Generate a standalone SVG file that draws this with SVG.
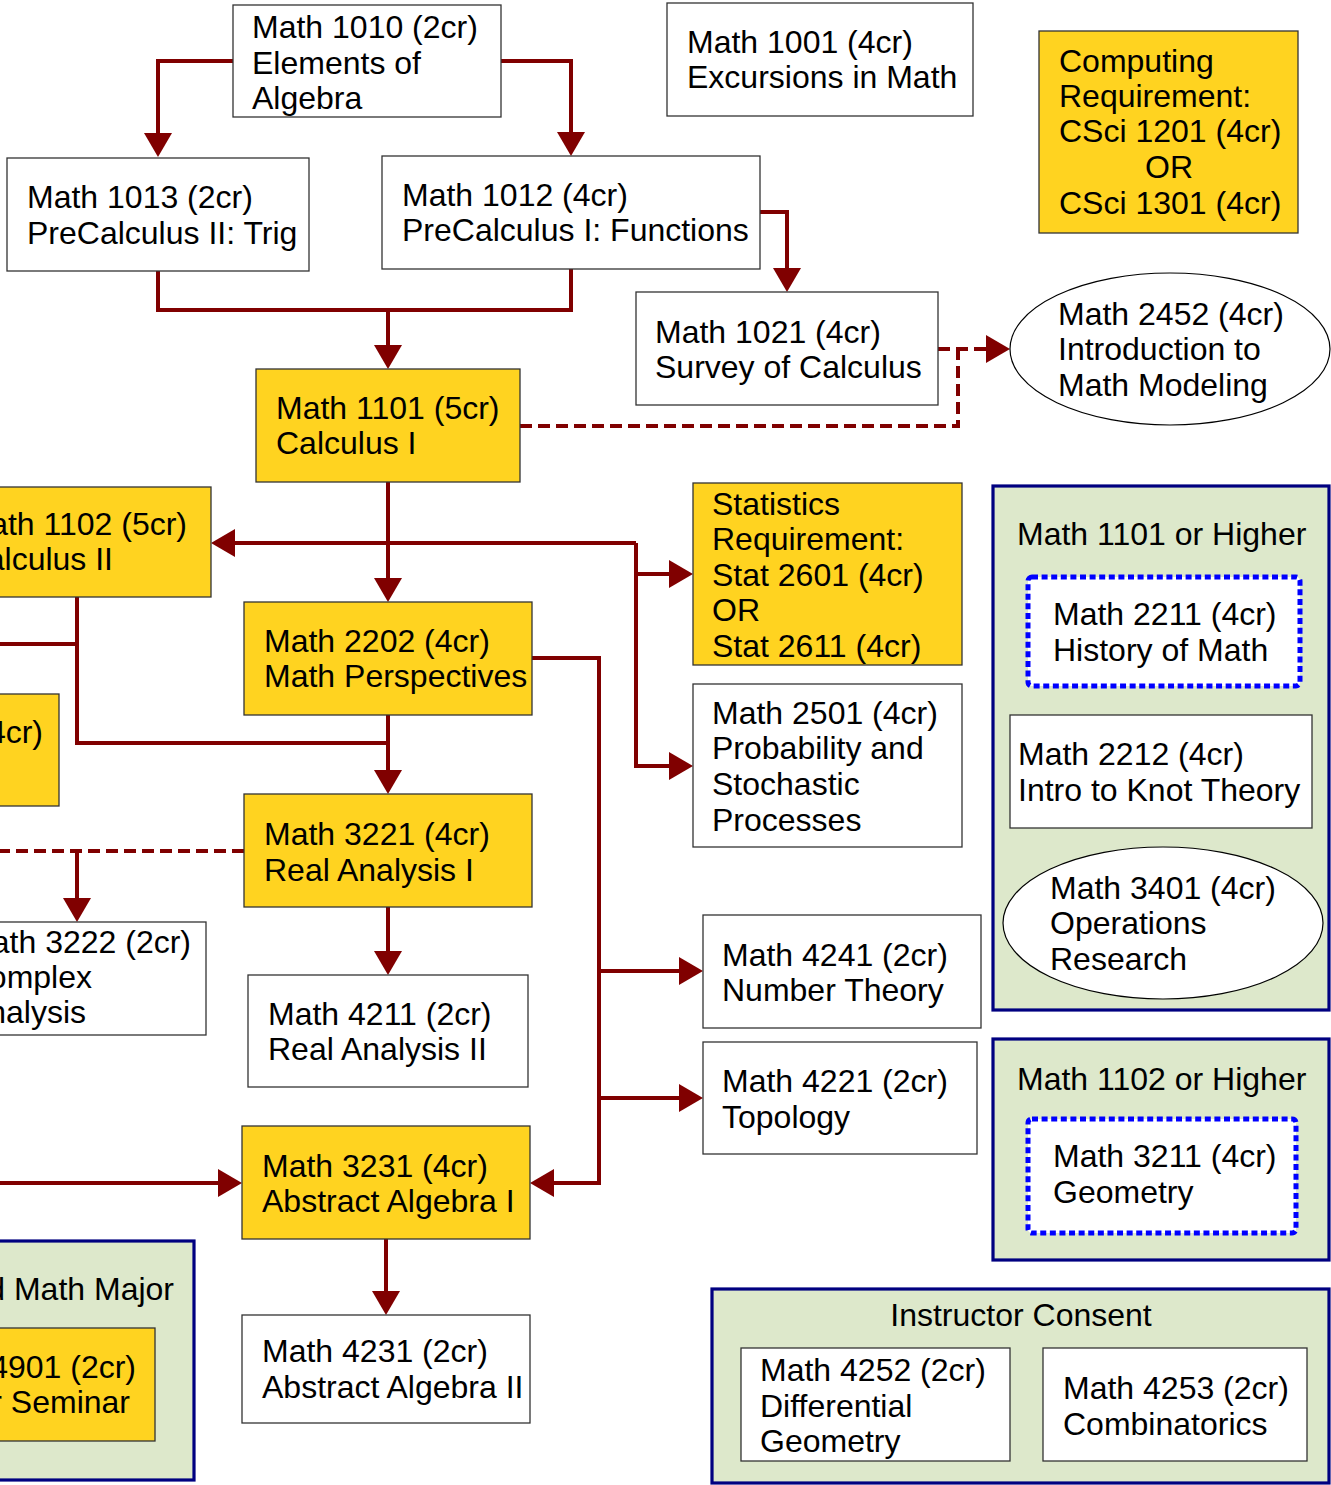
<svg xmlns="http://www.w3.org/2000/svg" width="1331" height="1485" viewBox="0 0 1331 1485">
<defs>
<style>
text{font-family:"Liberation Sans",Arial,sans-serif;font-size:32px;fill:#000}
.box{fill:#fff;stroke:#333;stroke-width:1.3}
.yel{fill:#ffd320;stroke:#333;stroke-width:1.3}
.grp{fill:#dde8cb;stroke:#000080;stroke-width:3.2}
.dot{fill:#fff;stroke:#0000ff;stroke-width:5;stroke-dasharray:6 3.6}
.ell{fill:#fff;stroke:#000;stroke-width:1.2}
.c{fill:none;stroke:#800000;stroke-width:4}
.d{fill:none;stroke:#800000;stroke-width:4;stroke-dasharray:12 6}
.mid{text-anchor:middle}
.end{text-anchor:end}
</style>
<marker id="ah" markerUnits="userSpaceOnUse" markerWidth="26" markerHeight="28" viewBox="0 0 26 28" refX="2" refY="14" orient="auto">
<path d="M0,0 L24,14 L0,28 z" fill="#800000"/>
</marker>
</defs>
<rect width="1331" height="1485" fill="#fff"/>

<g id="groups">
<g id="grp-1101"><rect class="grp" x="993" y="486" width="336" height="524"/><text x="1017" y="545">Math 1101 or Higher</text></g>
<g id="grp-1102"><rect class="grp" x="993" y="1039" width="336" height="221"/><text x="1017" y="1090">Math 1102 or Higher</text></g>
<g id="grp-consent"><rect class="grp" x="712" y="1289" width="617" height="194"/><text class="mid" x="1021" y="1326">Instructor Consent</text></g>
<g id="grp-major"><rect class="grp" x="-10" y="1241" width="204" height="239"/><text class="end" x="174" y="1300">d Math Major</text></g>
</g>

<g id="connectors">
<path class="c" d="M233,61 H158 V135" marker-end="url(#ah)"/>
<path class="c" d="M501,61 H571 V134" marker-end="url(#ah)"/>
<path class="c" d="M158,271 V310 H571 V269"/>
<path class="c" d="M388,310 V347" marker-end="url(#ah)"/>
<path class="c" d="M760,212 H787 V270" marker-end="url(#ah)"/>
<path class="d" d="M520,426 H958 V349"/>
<path class="d" d="M938,349 H988"/>
<path class="c" d="M982,349 H988" marker-end="url(#ah)"/>
<path class="c" d="M388,482 V580" marker-end="url(#ah)"/>
<path class="c" d="M636,543 H233" marker-end="url(#ah)"/>
<path class="c" d="M636,543 V766 H671" marker-end="url(#ah)"/>
<path class="c" d="M636,574 H671" marker-end="url(#ah)"/>
<path class="c" d="M532,658 H599 V1183 H552" marker-end="url(#ah)"/>
<path class="c" d="M599,971 H681" marker-end="url(#ah)"/>
<path class="c" d="M599,1098 H681" marker-end="url(#ah)"/>
<path class="c" d="M-10,644 H77"/>
<path class="c" d="M77,597 V743 H388"/>
<path class="c" d="M388,715 V772" marker-end="url(#ah)"/>
<path class="d" d="M244,851 H-10"/>
<path class="c" d="M77,851 V900" marker-end="url(#ah)"/>
<path class="c" d="M388,907 V953" marker-end="url(#ah)"/>
<path class="c" d="M-10,1183 H220" marker-end="url(#ah)"/>
<path class="c" d="M386,1239 V1293" marker-end="url(#ah)"/>
</g>

<g id="n1010"><rect class="box" x="233" y="5" width="268" height="112"/><text x="252" y="38">Math 1010 (2cr)</text><text x="252" y="73.5">Elements of</text><text x="252" y="109">Algebra</text></g>
<g id="n1001"><rect class="box" x="667" y="3" width="306" height="113"/><text x="687" y="53">Math 1001 (4cr)</text><text x="687" y="88">Excursions in Math</text></g>
<g id="ncomp"><rect class="yel" x="1039" y="31" width="259" height="202"/><text x="1059" y="72">Computing</text><text x="1059" y="107">Requirement:</text><text x="1059" y="142">CSci 1201 (4cr)</text><text class="mid" x="1169" y="178">OR</text><text x="1059" y="214">CSci 1301 (4cr)</text></g>
<g id="n1013"><rect class="box" x="7" y="158" width="302" height="113"/><text x="27" y="208">Math 1013 (2cr)</text><text x="27" y="244">PreCalculus II: Trig</text></g>
<g id="n1012"><rect class="box" x="382" y="156" width="378" height="113"/><text x="402" y="206">Math 1012 (4cr)</text><text x="402" y="241">PreCalculus I: Functions</text></g>
<g id="n1021"><rect class="box" x="636" y="292" width="302" height="113"/><text x="655" y="343">Math 1021 (4cr)</text><text x="655" y="378">Survey of Calculus</text></g>
<g id="n2452"><ellipse class="ell" cx="1170" cy="349" rx="160" ry="76"/><text x="1058" y="325">Math 2452 (4cr)</text><text x="1058" y="360">Introduction to</text><text x="1058" y="396">Math Modeling</text></g>
<g id="n1101"><rect class="yel" x="256" y="369" width="264" height="113"/><text x="276" y="419">Math 1101 (5cr)</text><text x="276" y="454">Calculus I</text></g>
<g id="n1102"><rect class="yel" x="-10" y="487" width="221" height="110"/><text class="end" x="187" y="535">ath 1102 (5cr)</text><text class="end" x="113" y="570">alculus II</text></g>
<g id="nstat"><rect class="yel" x="693" y="483" width="269" height="182"/><text x="712" y="515">Statistics</text><text x="712" y="550">Requirement:</text><text x="712" y="586">Stat 2601 (4cr)</text><text x="712" y="621">OR</text><text x="712" y="657">Stat 2611 (4cr)</text></g>
<g id="n2202"><rect class="yel" x="244" y="602" width="288" height="113"/><text x="264" y="652">Math 2202 (4cr)</text><text x="264" y="687">Math Perspectives</text></g>
<g id="n4cr"><rect class="yel" x="-10" y="694" width="69" height="112"/><text class="end" x="43" y="743">(4cr)</text></g>
<g id="n2501"><rect class="box" x="693" y="684" width="269" height="163"/><text x="712" y="724">Math 2501 (4cr)</text><text x="712" y="759">Probability and</text><text x="712" y="795">Stochastic</text><text x="712" y="831">Processes</text></g>
<g id="n2211"><rect class="dot" x="1028" y="577" width="272" height="109" rx="4"/><text x="1053" y="625">Math 2211 (4cr)</text><text x="1053" y="661">History of Math</text></g>
<g id="n2212"><rect class="box" x="1010" y="715" width="302" height="113"/><text x="1018" y="765">Math 2212 (4cr)</text><text x="1018" y="801">Intro to Knot Theory</text></g>
<g id="n3221"><rect class="yel" x="244" y="794" width="288" height="113"/><text x="264" y="845">Math 3221 (4cr)</text><text x="264" y="881">Real Analysis I</text></g>
<g id="n3401"><ellipse class="ell" cx="1163" cy="923" rx="160" ry="76"/><text x="1050" y="899">Math 3401 (4cr)</text><text x="1050" y="934">Operations</text><text x="1050" y="970">Research</text></g>
<g id="n3222"><rect class="box" x="-10" y="922" width="216" height="113"/><text class="end" x="191" y="953">ath 3222 (2cr)</text><text class="end" x="92" y="988">omplex</text><text class="end" x="86" y="1023">nalysis</text></g>
<g id="n4241"><rect class="box" x="703" y="915" width="278" height="113"/><text x="722" y="966">Math 4241 (2cr)</text><text x="722" y="1001">Number Theory</text></g>
<g id="n4211"><rect class="box" x="248" y="975" width="280" height="112"/><text x="268" y="1025">Math 4211 (2cr)</text><text x="268" y="1060">Real Analysis II</text></g>
<g id="n4221"><rect class="box" x="703" y="1042" width="274" height="112"/><text x="722" y="1092">Math 4221 (2cr)</text><text x="722" y="1128">Topology</text></g>
<g id="n3211"><rect class="dot" x="1028" y="1119" width="268" height="114" rx="4"/><text x="1053" y="1167">Math 3211 (4cr)</text><text x="1053" y="1203">Geometry</text></g>
<g id="n3231"><rect class="yel" x="242" y="1126" width="288" height="113"/><text x="262" y="1177">Math 3231 (4cr)</text><text x="262" y="1212">Abstract Algebra I</text></g>
<g id="n4901"><rect class="yel" x="-10" y="1328" width="165" height="113"/><text class="end" x="136" y="1378">4901 (2cr)</text><text class="end" x="130" y="1413">r Seminar</text></g>
<g id="n4231"><rect class="box" x="242" y="1315" width="288" height="108"/><text x="262" y="1362">Math 4231 (2cr)</text><text x="262" y="1398">Abstract Algebra II</text></g>
<g id="n4252"><rect class="box" x="741" y="1348" width="269" height="113"/><text x="760" y="1381">Math 4252 (2cr)</text><text x="760" y="1417">Differential</text><text x="760" y="1452">Geometry</text></g>
<g id="n4253"><rect class="box" x="1043" y="1348" width="264" height="113"/><text x="1063" y="1399">Math 4253 (2cr)</text><text x="1063" y="1435">Combinatorics</text></g>
</svg>
